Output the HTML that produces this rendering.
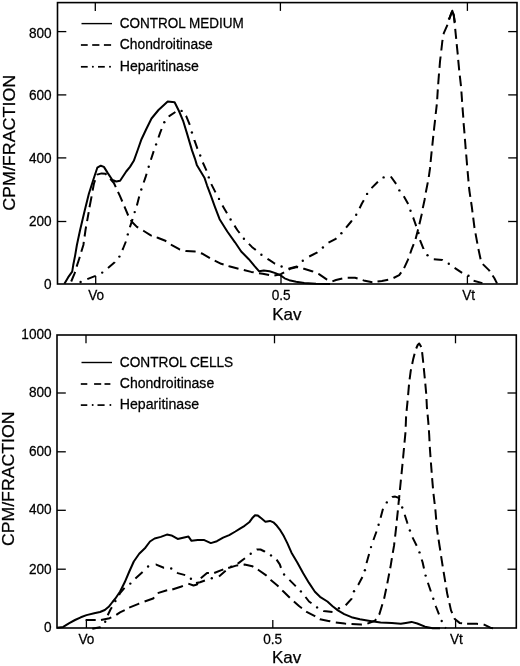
<!DOCTYPE html>
<html><head><meta charset="utf-8"><style>
html,body{margin:0;padding:0;background:#fff;}
svg{display:block;will-change:transform;}
text{font-family:"Liberation Sans", sans-serif;fill:#000;stroke:#000;stroke-width:0.25px;}
</style></head><body>
<svg width="520" height="666" viewBox="0 0 520 666">
<rect width="520" height="666" fill="#fff"/>
<rect x="57.5" y="2.6" width="459.5" height="281.4" fill="none" stroke="#000" stroke-width="1.6"/>
<line x1="57.5" y1="31.6" x2="66.3" y2="31.6" stroke="#000" stroke-width="1.3"/>
<line x1="508.2" y1="31.6" x2="517" y2="31.6" stroke="#000" stroke-width="1.3"/>
<line x1="57.5" y1="94.9" x2="66.3" y2="94.9" stroke="#000" stroke-width="1.3"/>
<line x1="508.2" y1="94.9" x2="517" y2="94.9" stroke="#000" stroke-width="1.3"/>
<line x1="57.5" y1="157.9" x2="66.3" y2="157.9" stroke="#000" stroke-width="1.3"/>
<line x1="508.2" y1="157.9" x2="517" y2="157.9" stroke="#000" stroke-width="1.3"/>
<line x1="57.5" y1="221.5" x2="66.3" y2="221.5" stroke="#000" stroke-width="1.3"/>
<line x1="508.2" y1="221.5" x2="517" y2="221.5" stroke="#000" stroke-width="1.3"/>
<line x1="95.3" y1="2.6" x2="95.3" y2="10.9" stroke="#000" stroke-width="1.3"/>
<line x1="280.4" y1="2.6" x2="280.4" y2="10.9" stroke="#000" stroke-width="1.3"/>
<line x1="467.4" y1="2.6" x2="467.4" y2="10.9" stroke="#000" stroke-width="1.3"/>
<line x1="95.7" y1="284" x2="95.7" y2="276" stroke="#000" stroke-width="1.3"/>
<line x1="281" y1="284" x2="281" y2="276" stroke="#000" stroke-width="1.3"/>
<line x1="467.4" y1="284" x2="467.4" y2="276" stroke="#000" stroke-width="1.3"/>
<text transform="translate(51.6,37.5) scale(1,1.04)" text-anchor="end" font-size="13.6">800</text>
<text transform="translate(51.6,100.3) scale(1,1.04)" text-anchor="end" font-size="13.6">600</text>
<text transform="translate(51.6,163.2) scale(1,1.04)" text-anchor="end" font-size="13.6">400</text>
<text transform="translate(51.6,226.3) scale(1,1.04)" text-anchor="end" font-size="13.6">200</text>
<text transform="translate(51.6,289.2) scale(1,1.04)" text-anchor="end" font-size="13.6">0</text>
<text transform="translate(96.2,300.3) scale(1,1.04)" text-anchor="middle" font-size="13.6">Vo</text>
<text transform="translate(281.2,300.3) scale(1,1.04)" text-anchor="middle" font-size="13.6">0.5</text>
<text transform="translate(468.6,300.3) scale(1,1.04)" text-anchor="middle" font-size="13.6">Vt</text>
<text x="286.8" y="319.7" text-anchor="middle" font-size="17">Kav</text>
<line x1="81.5" y1="23.6" x2="112" y2="23.6" stroke="#000" stroke-width="1.4"/>
<line x1="80.9" y1="45" x2="87.7" y2="45" stroke="#000" stroke-width="1.7"/>
<line x1="92.2" y1="45" x2="99.4" y2="45" stroke="#000" stroke-width="1.7"/>
<line x1="103.9" y1="45" x2="111.1" y2="45" stroke="#000" stroke-width="1.7"/>
<line x1="80.9" y1="66.8" x2="87.7" y2="66.8" stroke="#000" stroke-width="1.7"/>
<circle cx="92.9" cy="66.8" r="1.0" fill="#000"/>
<line x1="98" y1="66.8" x2="104.8" y2="66.8" stroke="#000" stroke-width="1.7"/>
<circle cx="110" cy="66.8" r="1.0" fill="#000"/>
<text transform="translate(119.8,28.4) scale(1,1.04)" font-size="13.6" textLength="124" lengthAdjust="spacingAndGlyphs">CONTROL MEDIUM</text>
<text transform="translate(119.8,48.8) scale(1,1.04)" font-size="13.6" textLength="93" lengthAdjust="spacingAndGlyphs">Chondroitinase</text>
<text transform="translate(119.8,71.3) scale(1,1.04)" font-size="13.6" textLength="79" lengthAdjust="spacingAndGlyphs">Heparitinase</text>
<rect x="57" y="335" width="459.29999999999995" height="293" fill="none" stroke="#000" stroke-width="1.6"/>
<line x1="57" y1="393" x2="65.8" y2="393" stroke="#000" stroke-width="1.3"/>
<line x1="507.49999999999994" y1="393" x2="516.3" y2="393" stroke="#000" stroke-width="1.3"/>
<line x1="57" y1="451.8" x2="65.8" y2="451.8" stroke="#000" stroke-width="1.3"/>
<line x1="507.49999999999994" y1="451.8" x2="516.3" y2="451.8" stroke="#000" stroke-width="1.3"/>
<line x1="57" y1="510.3" x2="65.8" y2="510.3" stroke="#000" stroke-width="1.3"/>
<line x1="507.49999999999994" y1="510.3" x2="516.3" y2="510.3" stroke="#000" stroke-width="1.3"/>
<line x1="57" y1="569.2" x2="65.8" y2="569.2" stroke="#000" stroke-width="1.3"/>
<line x1="507.49999999999994" y1="569.2" x2="516.3" y2="569.2" stroke="#000" stroke-width="1.3"/>
<line x1="86.0" y1="335" x2="86.0" y2="343.3" stroke="#000" stroke-width="1.3"/>
<line x1="274.5" y1="335" x2="274.5" y2="343.3" stroke="#000" stroke-width="1.3"/>
<line x1="455.5" y1="335" x2="455.5" y2="343.3" stroke="#000" stroke-width="1.3"/>
<line x1="86.4" y1="628" x2="86.4" y2="620" stroke="#000" stroke-width="1.3"/>
<line x1="272.8" y1="628" x2="272.8" y2="620" stroke="#000" stroke-width="1.3"/>
<line x1="455.6" y1="628" x2="455.6" y2="620" stroke="#000" stroke-width="1.3"/>
<text transform="translate(51.6,339.3) scale(1,1.04)" text-anchor="end" font-size="13.6">1000</text>
<text transform="translate(51.6,397.2) scale(1,1.04)" text-anchor="end" font-size="13.6">800</text>
<text transform="translate(51.6,455.8) scale(1,1.04)" text-anchor="end" font-size="13.6">600</text>
<text transform="translate(51.6,514.4) scale(1,1.04)" text-anchor="end" font-size="13.6">400</text>
<text transform="translate(51.6,573.5) scale(1,1.04)" text-anchor="end" font-size="13.6">200</text>
<text transform="translate(51.6,632.3) scale(1,1.04)" text-anchor="end" font-size="13.6">0</text>
<text transform="translate(86.4,644.4) scale(1,1.04)" text-anchor="middle" font-size="13.6">Vo</text>
<text transform="translate(272.6,644.4) scale(1,1.04)" text-anchor="middle" font-size="13.6">0.5</text>
<text transform="translate(456.4,644.4) scale(1,1.04)" text-anchor="middle" font-size="13.6">Vt</text>
<text x="286.6" y="663.2" text-anchor="middle" font-size="17">Kav</text>
<line x1="81.5" y1="362.5" x2="112" y2="362.5" stroke="#000" stroke-width="1.4"/>
<line x1="80.8" y1="384" x2="87.3" y2="384" stroke="#000" stroke-width="1.7"/>
<line x1="94.1" y1="384" x2="101.2" y2="384" stroke="#000" stroke-width="1.7"/>
<line x1="104.5" y1="384" x2="110.4" y2="384" stroke="#000" stroke-width="1.7"/>
<line x1="80.8" y1="405.1" x2="87.3" y2="405.1" stroke="#000" stroke-width="1.7"/>
<circle cx="92.7" cy="405.1" r="1.0" fill="#000"/>
<line x1="97.5" y1="405.1" x2="104.6" y2="405.1" stroke="#000" stroke-width="1.7"/>
<circle cx="110.4" cy="405.1" r="1.0" fill="#000"/>
<text transform="translate(119.8,367.2) scale(1,1.04)" font-size="13.6" textLength="113.4" lengthAdjust="spacingAndGlyphs">CONTROL CELLS</text>
<text transform="translate(119.8,388.0) scale(1,1.04)" font-size="13.6" textLength="94.4" lengthAdjust="spacingAndGlyphs">Chondroitinase</text>
<text transform="translate(119.8,409.1) scale(1,1.04)" font-size="13.6" textLength="79.3" lengthAdjust="spacingAndGlyphs">Heparitinase</text>

<g fill="none" stroke="#000" stroke-width="2" stroke-linejoin="round" stroke-linecap="butt">
<polyline points="64.4,283.8 68.1,277.4 72.2,271.7 73.2,265.3 75.2,255.1 76.9,245.0 80.1,230.0 84.6,211.0 88.8,194.0 93.4,179.5 97.3,167.7 100.8,165.7 103.9,166.9 107.8,173.1 112.4,180.0 116.2,181.5 120.1,180.8 126.2,171.5 130.0,166.9 133.8,160.8 137.7,150.0 141.5,139.2 146.2,129.2 151.5,118.5 158.5,110.0 167.7,101.5 174.6,102.3 179.2,111.5 183.1,120.8 186.9,133.1 192.0,150.4 195.0,158.8 196.8,164.9 200.4,170.9 204.6,178.1 207.0,185.3 210.6,194.9 214.9,206.9 219.6,219.2 227.3,231.5 235.0,242.3 241.2,251.5 248.8,259.2 254.6,266.1 259.2,271.3 263.8,270.5 269.6,271.3 275.4,273.1 280.6,275.4 284.6,278.3 289.2,280.2 296.1,281.7 304.2,283.1 316.0,283.8 330.0,284.0"/>
<path d="M71.2,281.5 L74.6,273.4 L75.1,271.9M76.6,266.6 L79.3,258.5 L79.8,256.9M81.3,251.8 L83.4,245.0 L83.8,241.9M84.6,236.5 L85.5,230.0 L86.1,226.5M87.1,221.2 L88.7,212.1M89.5,207.2 L91.6,196.4M92.6,190.6 L93.9,183.8 L95.1,180.2M96.9,174.8 L97.0,174.6 L101.6,173.4 L105.5,173.8 L106.5,174.8M110.2,178.8 L113.9,183.0 L115.8,187.1M118.0,191.9 L120.0,196.2 L122.3,201.5M124.4,206.5 L124.6,206.9 L128.2,215.5M130.8,219.9 L132.3,222.3 L136.9,226.9 L138.2,227.7M143.2,230.7 L144.6,231.5 L150.8,235.4 L151.8,235.7M156.7,237.4 L157.7,237.7 L165.4,240.8 L166.3,241.4M170.9,244.5 L172.3,245.4 L179.2,249.2 L180.1,249.4M185.4,250.9 L186.2,251.1 L195.2,251.6 L195.6,251.7M200.9,253.3 L202.7,253.8 L209.9,258.2M214.7,260.6 L221.2,263.8 L223.6,264.5M228.5,266.1 L230.0,266.5 L238.5,268.7M243.8,270.0 L251.2,271.9 L253.7,272.3M259.0,273.2 L262.7,273.8 L269.1,275.1M274.4,275.4 L280.8,274.2 L284.1,272.3M288.7,269.5 L290.0,268.8 L297.0,267.0 L298.1,267.3M303.2,268.6 L304.0,268.8 L312.0,271.2 L313.2,271.7M318.3,273.9 L319.0,274.2 L327.0,279.6 L327.2,279.7M332.4,281.4 L336.0,280.0 L342.3,278.5M347.7,277.7 L355.0,277.7 L357.6,278.5M362.7,280.1 L363.7,280.4 L372.3,282.3 L372.4,282.3M377.5,281.6 L381.9,281.0 L388.2,279.7M393.5,278.0 L399.2,275.2 L401.2,272.4M404.1,268.2 L407.9,259.8 L408.3,258.6M410.2,253.5 L411.7,249.2 L413.7,244.1M415.6,239.1 L418.0,229.7 L418.1,229.4M419.4,224.2 L419.5,223.7 L421.6,214.7 L421.8,213.7M422.8,208.1 L422.8,208.1 L424.6,199.7 L424.9,198.0M425.8,192.6 L425.8,192.5 L427.6,183.4 L427.8,182.4M428.8,177.0 L428.8,176.8 L430.0,168.4 L430.1,167.2M430.6,162.0 L431.6,151.9 L431.7,151.3M432.3,145.6 L433.3,135.8M433.9,130.6 L434.2,127.7 L435.1,119.8M435.7,114.0 L436.8,104.3M437.2,99.2 L437.8,89.4M438.2,84.3 L438.5,80.0 L439.0,73.5M439.5,67.8 L440.0,61.5 L440.6,56.5M441.3,50.5 L442.3,41.5 L442.6,39.8M443.6,34.2 L443.8,33.1 L446.9,26.2 L447.4,24.7M449.1,19.6 L450.0,16.9 L451.6,12.5M452.9,12.7 L453.8,15.4 L454.6,23.2M455.2,28.8 L455.7,33.8 L456.2,38.8M456.7,44.1 L457.7,53.8 L457.8,54.5M458.2,59.9 L459.2,70.3M459.8,75.7 L461.0,86.1M461.4,91.5 L462.0,100.0 L462.1,101.9M462.5,107.4 L463.3,117.7M463.6,123.1 L464.5,133.4M464.9,138.8 L465.4,145.0 L465.7,149.1M466.2,154.5 L467.1,165.4M467.6,171.1 L468.5,181.4M469.0,186.8 L469.3,190.0 L470.3,196.8M471.1,202.0 L471.9,207.3 L472.5,212.3M473.2,217.7 L474.5,228.0M475.5,233.4 L477.4,243.6M478.4,249.0 L480.6,259.2M482.8,264.1 L489.2,270.4 L489.7,271.2M492.6,275.5 L494.4,278.2 L497.0,283.4"/>
<polyline points="448.6,19.4 450,16.9 452.3,10.7 453.8,15.4 454.9,22.1"/>
<path d="M87.3,279.2 L95.5,275.8 L95.7,275.7M108.0,268.1 L108.0,268.1 L114.7,262.3 L114.8,262.1M122.4,250.0 L123.1,248.5 L125.9,241.5M129.9,227.3 L130.0,226.9 L132.3,220.0 L132.6,218.9M136.9,205.4 L139.2,196.5M143.7,182.5 L145.4,177.7 L146.6,173.7M150.9,159.7 L153.7,151.1M158.5,137.5 L160.0,133.1 L161.6,129.0M168.8,116.6 L169.2,116.2 L175.4,112.0M185.9,115.8 L186.2,116.2 L189.8,124.9M194.4,140.1 L194.4,140.2 L197.4,148.6 L197.5,148.8M202.8,162.5 L206.4,170.3 L206.5,170.6M211.3,184.1 L215.5,192.4M222.5,205.4 L224.2,208.5 L227.0,213.3M234.5,225.6 L237.3,230.0 L239.6,233.0M248.9,243.9 L251.9,246.9 L255.8,250.1M267.5,258.8 L270.0,260.4 L274.6,263.5 L275.1,263.7M288.5,268.8 L296.9,266.5 L297.5,266.0M309.2,256.5 L316.9,252.7 L317.4,252.3M328.5,242.7 L335.8,238.8 L336.4,238.2M346.1,227.6 L351.2,221.5 L351.9,220.5M359.6,208.3 L361.9,203.5 L363.8,200.3M371.5,188.1 L377.9,181.7M390.8,176.5 L396.1,183.8 L396.2,183.9M403.8,196.3 L408.2,204.1M413.1,217.5 L413.2,217.7 L416.2,226.1 L416.2,226.1M420.0,240.2 L423.5,248.8 L423.5,248.9M433.8,259.2 L442.5,260.1 L442.6,260.2M454.6,267.9 L462.1,272.8M473.6,280.8 L480.6,282.6 L482.4,283.1"/><circle cx="80.6" cy="282.0" r="1.2" fill="#000" stroke="none"/><circle cx="102.2" cy="272.6" r="1.2" fill="#000" stroke="none"/><circle cx="119.4" cy="256.6" r="1.2" fill="#000" stroke="none"/><circle cx="127.8" cy="234.4" r="1.2" fill="#000" stroke="none"/><circle cx="134.7" cy="212.1" r="1.2" fill="#000" stroke="none"/><circle cx="141.3" cy="189.5" r="1.2" fill="#000" stroke="none"/><circle cx="148.7" cy="166.7" r="1.2" fill="#000" stroke="none"/><circle cx="156.1" cy="144.4" r="1.2" fill="#000" stroke="none"/><circle cx="164.3" cy="122.3" r="1.2" fill="#000" stroke="none"/><circle cx="181.6" cy="110.9" r="1.2" fill="#000" stroke="none"/><circle cx="191.9" cy="132.5" r="1.2" fill="#000" stroke="none"/><circle cx="200.2" cy="155.5" r="1.2" fill="#000" stroke="none"/><circle cx="208.8" cy="177.4" r="1.2" fill="#000" stroke="none"/><circle cx="219.0" cy="198.9" r="1.2" fill="#000" stroke="none"/><circle cx="230.6" cy="219.5" r="1.2" fill="#000" stroke="none"/><circle cx="243.9" cy="238.8" r="1.2" fill="#000" stroke="none"/><circle cx="261.4" cy="254.7" r="1.2" fill="#000" stroke="none"/><circle cx="281.6" cy="266.5" r="1.2" fill="#000" stroke="none"/><circle cx="302.8" cy="260.7" r="1.2" fill="#000" stroke="none"/><circle cx="322.9" cy="247.5" r="1.2" fill="#000" stroke="none"/><circle cx="341.4" cy="233.2" r="1.2" fill="#000" stroke="none"/><circle cx="356.2" cy="214.8" r="1.2" fill="#000" stroke="none"/><circle cx="367.1" cy="193.9" r="1.2" fill="#000" stroke="none"/><circle cx="383.6" cy="177.4" r="1.2" fill="#000" stroke="none"/><circle cx="399.4" cy="190.4" r="1.2" fill="#000" stroke="none"/><circle cx="410.5" cy="210.8" r="1.2" fill="#000" stroke="none"/><circle cx="418.5" cy="233.0" r="1.2" fill="#000" stroke="none"/><circle cx="427.5" cy="255.2" r="1.2" fill="#000" stroke="none"/><circle cx="448.8" cy="263.7" r="1.2" fill="#000" stroke="none"/><circle cx="468.5" cy="275.7" r="1.2" fill="#000" stroke="none"/>
<polyline points="57.0,627.7 63.2,626.9 69.3,623.1 75.0,620.0 80.8,617.3 86.5,615.1 94.2,613.3 100.0,612.0 104.8,610.0 108.7,606.8 112.5,602.0 115.4,598.5 120.1,591.5 124.7,582.3 129.3,571.5 133.8,561.5 139.2,553.8 145.4,547.7 150.0,541.5 154.6,538.5 160.8,536.9 166.9,534.6 171.5,535.4 177.7,538.9 183.1,537.7 188.5,536.6 191.5,540.8 197.7,540.0 203.8,539.9 210.8,543.1 216.9,541.2 223.1,537.7 229.2,535.1 235.4,531.5 240.0,528.6 244.6,525.8 249.2,522.3 252.1,518.3 255.0,515.2 257.9,515.6 261.3,518.3 265.4,521.7 270.0,520.9 273.4,522.3 276.9,525.8 280.4,530.4 283.8,536.1 287.3,543.1 291.5,552.7 297.3,562.4 303.2,573.2 309.0,582.9 314.9,591.7 320.0,596.8 327.4,601.5 332.6,606.2 337.9,610.4 344.2,614.1 351.5,617.2 359.9,619.3 370.0,620.9 380.6,622.4 391.8,623.1 400.8,623.8 405.8,622.9 411.5,621.9 417.3,623.5 425.0,626.7 432.7,628.2 440.0,628.2"/>
<path d="M85.6,620.1 L94.2,620.1 L95.7,620.1M101.0,620.1 L109.6,618.2 L111.3,617.3M116.3,614.8 L120.0,612.3 L124.7,610.1M129.2,607.7 L138.5,603.8 L139.2,603.5M144.6,601.5 L153.1,598.5 L154.1,597.3M157.7,593.1 L166.2,590.5 L167.2,590.3M172.3,589.5 L181.5,586.5 L182.9,585.9M188.3,583.6 L188.3,583.6 L193.5,585.5 L197.0,584.5 L197.8,583.1M200.8,578.3 L207.0,573.0 L208.9,573.0M214.2,573.0 L221.4,570.1 L223.3,569.5M228.2,568.0 L229.1,567.7 L236.9,565.4 L238.2,565.3M243.6,564.7 L244.6,564.6 L252.3,566.2 L253.3,566.8M257.9,569.6 L258.5,570.0 L266.2,575.4 L266.6,575.8M270.6,579.8 L270.8,580.0 L276.8,584.9 L278.5,586.5M282.3,590.4 L283.7,591.7 L289.8,597.8M293.9,601.6 L299.3,606.3 L301.9,608.2M306.2,611.5 L307.1,612.2 L314.9,616.1 L315.2,616.3M319.8,619.2 L320.0,619.3 L328.4,620.9 L330.3,621.3M335.8,622.5 L344.7,623.6 L346.1,623.7M351.5,624.1 L361.0,624.6 L361.9,624.5M367.4,623.6 L374.9,620.8 L376.1,619.1M379.0,614.6 L379.4,614.1 L382.4,604.2M384.1,598.7 L386.2,588.7M387.3,583.4 L389.2,573.5M390.2,568.3 L390.7,565.6 L391.9,558.2M392.8,552.9 L394.1,545.4 L394.4,542.3M395.1,536.7 L396.3,526.1M396.8,520.6 L397.9,510.3M398.4,504.8 L398.5,503.8 L399.4,495.1M399.9,490.0 L400.8,480.8 L400.9,479.7M401.5,474.2 L402.5,463.9M403.0,458.4 L403.1,457.7 L404.0,448.0M404.5,442.6 L405.4,433.1 L405.4,432.2M405.7,426.8 L406.1,416.4M406.6,410.9 L407.6,400.6M408.1,395.1 L409.0,384.7M409.6,379.3 L410.8,370.4 L411.1,369.2M412.2,364.0 L413.1,359.6 L414.6,353.7M416.2,348.5 L417.7,345.0 L419.2,343.5 L421.3,347.0M422.1,352.2 L423.1,361.2 L423.2,362.7M423.8,368.2 L424.6,376.5 L424.8,378.3M425.3,383.6 L426.2,393.5 L426.2,393.7M426.5,399.0 L426.9,407.3 L427.1,409.2M427.6,414.6 L428.2,421.2 L428.5,424.9M428.9,430.3 L429.2,435.0 L429.5,441.2M429.8,446.9 L430.0,450.0 L430.5,457.1M430.9,462.5 L431.5,470.0 L431.7,472.7M432.1,478.1 L433.0,488.4M433.5,493.8 L434.7,504.0M435.3,509.4 L435.4,510.0 L436.2,519.6M436.6,525.0 L436.9,528.5 L437.8,534.7M438.6,539.7 L439.4,545.0 L440.3,550.5M441.1,556.1 L442.7,566.4M443.6,571.8 L445.3,582.1M446.2,587.5 L447.1,593.1 L448.1,597.7M449.4,603.1 L451.0,610.4 L452.2,613.1M454.4,618.1 L454.8,619.0 L459.6,622.9 L462.1,623.2M467.1,623.8 L467.3,623.8 L476.9,623.8 L478.0,623.9M483.6,624.7 L484.6,624.8 L490.4,627.7 L493.0,628.3"/>
<path d="M92.3,628.8 L100.0,627.3 L100.6,626.8M107.7,615.3 L110.5,609.5 L111.9,607.3M119.1,594.9 L120.1,593.1 L124.5,587.8M135.4,578.5 L142.6,571.9M155.7,564.7 L156.2,564.6 L163.8,567.7 L164.1,567.7M177.1,572.6 L177.7,573.1 L185.2,575.1M196.0,582.9 L200.0,582.2 L204.9,580.5M219.0,576.4 L225.3,571.1 L225.7,570.8M237.5,563.6 L238.5,563.1 L244.6,558.5 L245.0,558.2M256.8,549.6 L256.9,549.5 L260.5,549.5 L264.6,551.5 L265.0,551.8M276.6,559.6 L279.8,564.4 L281.0,567.9M289.4,579.9 L295.4,585.9 L295.8,586.3M305.5,597.0 L309.0,601.5 L311.5,603.3M323.3,610.8 L323.7,611.0 L332.5,612.0M345.7,605.2 L351.5,598.9 L351.7,598.2M358.1,585.0 L358.3,584.7 L362.4,577.0M366.6,563.1 L366.7,562.6 L369.1,554.1M373.4,540.0 L376.5,531.5M380.6,517.7 L383.0,508.7M392.1,497.1 L392.3,496.9 L395.2,496.6 L398.5,497.7 L399.5,500.4M404.7,514.8 L407.2,522.5 L407.6,523.6M412.5,537.4 L416.7,545.7M421.7,559.5 L422.6,562.3 L424.0,568.5M427.9,582.7 L430.8,591.2 L430.9,591.6M435.7,605.9 L435.9,606.5 L439.0,614.3M445.0,627.4 L446.0,628.3"/><circle cx="105.2" cy="621.8" r="1.2" fill="#000" stroke="none"/><circle cx="115.4" cy="601.1" r="1.2" fill="#000" stroke="none"/><circle cx="130.3" cy="583.6" r="1.2" fill="#000" stroke="none"/><circle cx="148.1" cy="566.5" r="1.2" fill="#000" stroke="none"/><circle cx="171.2" cy="568.5" r="1.2" fill="#000" stroke="none"/><circle cx="190.9" cy="578.7" r="1.2" fill="#000" stroke="none"/><circle cx="211.8" cy="578.3" r="1.2" fill="#000" stroke="none"/><circle cx="231.2" cy="566.7" r="1.2" fill="#000" stroke="none"/><circle cx="250.7" cy="553.8" r="1.2" fill="#000" stroke="none"/><circle cx="271.0" cy="555.4" r="1.2" fill="#000" stroke="none"/><circle cx="284.1" cy="574.5" r="1.2" fill="#000" stroke="none"/><circle cx="300.9" cy="591.4" r="1.2" fill="#000" stroke="none"/><circle cx="317.1" cy="607.4" r="1.2" fill="#000" stroke="none"/><circle cx="338.9" cy="608.3" r="1.2" fill="#000" stroke="none"/><circle cx="354.0" cy="591.3" r="1.2" fill="#000" stroke="none"/><circle cx="364.9" cy="570.2" r="1.2" fill="#000" stroke="none"/><circle cx="371.0" cy="547.1" r="1.2" fill="#000" stroke="none"/><circle cx="378.6" cy="524.7" r="1.2" fill="#000" stroke="none"/><circle cx="386.8" cy="502.4" r="1.2" fill="#000" stroke="none"/><circle cx="402.2" cy="507.5" r="1.2" fill="#000" stroke="none"/><circle cx="409.9" cy="530.5" r="1.2" fill="#000" stroke="none"/><circle cx="419.5" cy="552.4" r="1.2" fill="#000" stroke="none"/><circle cx="425.6" cy="575.6" r="1.2" fill="#000" stroke="none"/><circle cx="433.3" cy="598.7" r="1.2" fill="#000" stroke="none"/><circle cx="441.7" cy="621.0" r="1.2" fill="#000" stroke="none"/>
</g>

<text transform="translate(14.9,142.8) rotate(-90)" x="-68" font-size="17.3" textLength="136" lengthAdjust="spacingAndGlyphs">CPM/FRACTION</text>
<text transform="translate(14.4,478.8) rotate(-90)" x="-67.3" font-size="17.3" textLength="134.6" lengthAdjust="spacingAndGlyphs">CPM/FRACTION</text>

</svg>
</body></html>
